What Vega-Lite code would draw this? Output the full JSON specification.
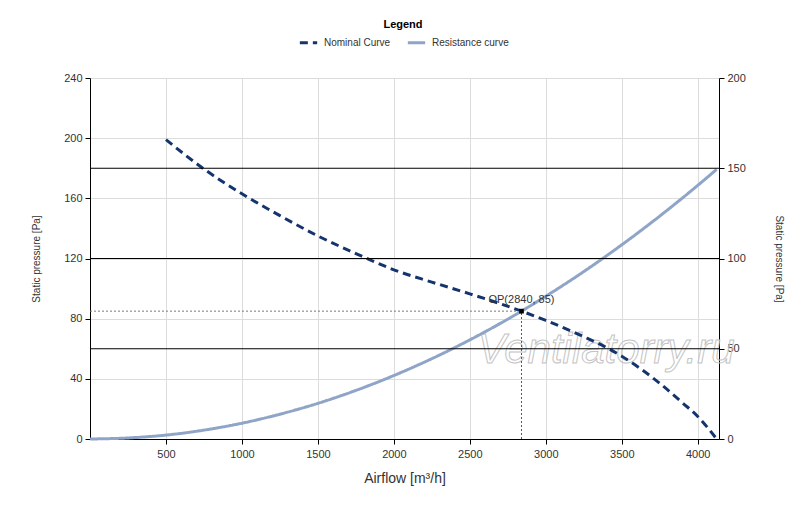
{
  "$schema": "https://vega.github.io/schema/vega-lite/v6.json",
  "width": 629,
  "height": 361,
  "autosize": "none",
  "padding": {"left": 90, "top": 78, "right": 81, "bottom": 68},
  "background": "#ffffff",
  "config": {
    "view": {"stroke": null},
    "font": "Liberation Sans",
    "axis": {
      "labelFont": "Liberation Sans",
      "labelColor": "#333333",
      "labelFontSize": 11,
      "titleFont": "Liberation Sans",
      "titleColor": "#333333",
      "titleFontWeight": "normal",
      "domainColor": "#000000",
      "tickColor": "#000000",
      "tickSize": 5,
      "gridColor": "#dcdcdc",
      "gridWidth": 1
    },
    "legend": {
      "titleFont": "Liberation Sans",
      "titleFontSize": 11,
      "titleFontWeight": "bold",
      "titleColor": "#000000",
      "titlePadding": 2,
      "labelFont": "Liberation Sans",
      "labelFontSize": 10,
      "labelColor": "#333333",
      "labelOffset": 5,
      "symbolType": "stroke",
      "symbolSize": 300,
      "symbolStrokeWidth": 3,
      "columnPadding": 10
    }
  },
  "datasets": {
    "curves": [
      {"series": "Nominal Curve", "q": 500, "p": 199},
      {"series": "Nominal Curve", "q": 750, "p": 179.5},
      {"series": "Nominal Curve", "q": 1000, "p": 163},
      {"series": "Nominal Curve", "q": 1250, "p": 148.5},
      {"series": "Nominal Curve", "q": 1500, "p": 135},
      {"series": "Nominal Curve", "q": 1750, "p": 123.3},
      {"series": "Nominal Curve", "q": 2000, "p": 112.5},
      {"series": "Nominal Curve", "q": 2250, "p": 104.3},
      {"series": "Nominal Curve", "q": 2500, "p": 96.5},
      {"series": "Nominal Curve", "q": 2840, "p": 85},
      {"series": "Nominal Curve", "q": 3000, "p": 78.8},
      {"series": "Nominal Curve", "q": 3250, "p": 68},
      {"series": "Nominal Curve", "q": 3414, "p": 60},
      {"series": "Nominal Curve", "q": 3500, "p": 55},
      {"series": "Nominal Curve", "q": 3750, "p": 37},
      {"series": "Nominal Curve", "q": 3900, "p": 24},
      {"series": "Nominal Curve", "q": 4000, "p": 15},
      {"series": "Nominal Curve", "q": 4125, "p": 0},
      {"series": "Resistance curve", "q": 0, "p": 0},
      {"series": "Resistance curve", "q": 250, "p": 0.7},
      {"series": "Resistance curve", "q": 500, "p": 2.6},
      {"series": "Resistance curve", "q": 750, "p": 5.9},
      {"series": "Resistance curve", "q": 1000, "p": 10.5},
      {"series": "Resistance curve", "q": 1250, "p": 16.5},
      {"series": "Resistance curve", "q": 1500, "p": 23.7},
      {"series": "Resistance curve", "q": 1750, "p": 32.3},
      {"series": "Resistance curve", "q": 2000, "p": 42.2},
      {"series": "Resistance curve", "q": 2250, "p": 53.4},
      {"series": "Resistance curve", "q": 2500, "p": 65.9},
      {"series": "Resistance curve", "q": 2840, "p": 85},
      {"series": "Resistance curve", "q": 3000, "p": 94.9},
      {"series": "Resistance curve", "q": 3250, "p": 111.3},
      {"series": "Resistance curve", "q": 3500, "p": 129.1},
      {"series": "Resistance curve", "q": 3750, "p": 148.2},
      {"series": "Resistance curve", "q": 4000, "p": 168.6},
      {"series": "Resistance curve", "q": 4125, "p": 179.3}
    ],
    "op": [
      {"q": 2840, "p": 85, "q0": 0, "p0": 0, "label": "OP(2840, 85)"}
    ],
    "mark": [
      {"q": 3397, "p": 59, "label": "Ventilatorry.ru"}
    ],
    "bands": [
      {"r": 50}, {"r": 100}, {"r": 150}
    ]
  },
  "layer": [
    {
      "layer": [
        {
          "data": {"name": "mark"},
          "mark": {
            "type": "text",
            "font": "Liberation Sans",
            "fontStyle": "italic",
            "fontSize": 42,
            "fill": "#ffffff",
            "fillOpacity": 0,
            "stroke": "#c4c4c4",
            "strokeWidth": 1,
            "baseline": "middle",
            "align": "center"
          },
          "encoding": {
            "x": {
              "field": "q",
              "type": "quantitative",
              "scale": {"domain": [0, 4140], "nice": false},
              "axis": {
                "values": [500, 1000, 1500, 2000, 2500, 3000, 3500, 4000],
                "format": "d",
                "title": "Airflow [m³/h]",
                "titleFontSize": 14,
                "titlePadding": 12,
                "labelPadding": 4,
                "grid": true
              }
            },
            "y": {
              "field": "p",
              "type": "quantitative",
              "scale": {"domain": [0, 240], "nice": false},
              "axis": {
                "values": [0, 40, 80, 120, 160, 200, 240],
                "title": "Static pressure [Pa]",
                "titleFontSize": 10,
                "titlePadding": 22,
                "labelPadding": 3,
                "grid": true
              }
            },
            "text": {"field": "label"}
          }
        },
        {
          "data": {"name": "op"},
          "mark": {"type": "rule", "color": "#7a7a7a", "strokeWidth": 1, "strokeDash": [2, 2]},
          "encoding": {
            "x": {"field": "q0", "type": "quantitative"},
            "x2": {"field": "q"},
            "y": {"field": "p", "type": "quantitative"}
          }
        },
        {
          "data": {"name": "op"},
          "mark": {"type": "rule", "color": "#555555", "strokeWidth": 1, "strokeDash": [2, 2]},
          "encoding": {
            "x": {"field": "q", "type": "quantitative"},
            "y": {"field": "p0", "type": "quantitative"},
            "y2": {"field": "p"}
          }
        },
        {
          "data": {"name": "curves"},
          "mark": {"type": "line", "strokeWidth": 3, "interpolate": "monotone"},
          "encoding": {
            "x": {"field": "q", "type": "quantitative"},
            "y": {"field": "p", "type": "quantitative"},
            "color": {
              "field": "series",
              "type": "nominal",
              "scale": {
                "domain": ["Nominal Curve", "Resistance curve"],
                "range": ["#14346e", "#8ea5c8"]
              },
              "legend": {
                "title": "Legend",
                "orient": "none",
                "legendX": 208,
                "legendY": -59,
                "direction": "horizontal",
                "titleAnchor": "middle"
              }
            },
            "strokeDash": {
              "field": "series",
              "type": "nominal",
              "scale": {
                "domain": ["Nominal Curve", "Resistance curve"],
                "range": [[8, 5], [1, 0]]
              },
              "legend": {
                "title": "Legend",
                "orient": "none",
                "legendX": 208,
                "legendY": -59,
                "direction": "horizontal",
                "titleAnchor": "middle"
              }
            }
          }
        },
        {
          "data": {"name": "op"},
          "mark": {"type": "point", "shape": "square", "filled": true, "color": "#000000", "size": 22, "opacity": 1},
          "encoding": {
            "x": {"field": "q", "type": "quantitative"},
            "y": {"field": "p", "type": "quantitative"}
          }
        },
        {
          "data": {"name": "op"},
          "mark": {"type": "text", "font": "Liberation Sans", "fontSize": 11, "color": "#333333", "dy": -11, "align": "center"},
          "encoding": {
            "x": {"field": "q", "type": "quantitative"},
            "y": {"field": "p", "type": "quantitative"},
            "text": {"field": "label"}
          }
        }
      ]
    },
    {
      "data": {"name": "bands"},
      "mark": {"type": "rule", "color": "#000000", "strokeWidth": 1},
      "encoding": {
        "y": {
          "field": "r",
          "type": "quantitative",
          "scale": {"domain": [0, 200], "nice": false},
          "axis": {
            "orient": "right",
            "values": [0, 50, 100, 150, 200],
            "title": "Static pressure [Pa]",
            "titleFontSize": 10,
            "titlePadding": 28,
            "labelPadding": 3,
            "grid": false
          }
        }
      }
    }
  ],
  "resolve": {"scale": {"y": "independent"}}
}
